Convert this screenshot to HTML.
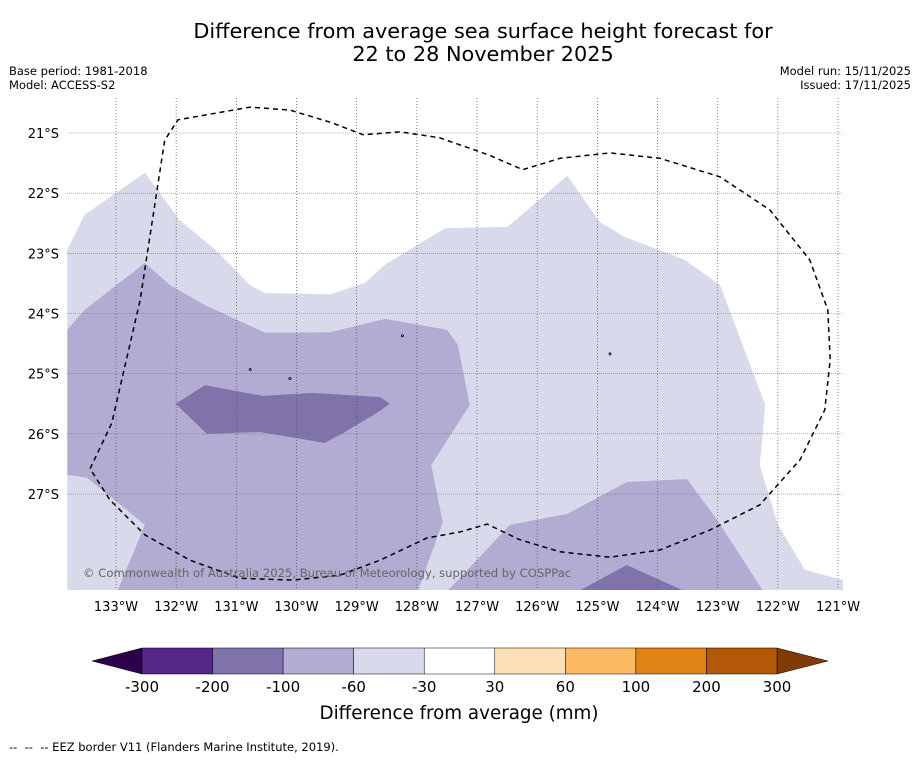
<!DOCTYPE html>
<html><head><meta charset="utf-8">
<style>
html,body{margin:0;padding:0;background:#fff;}
body{width:919px;height:758px;overflow:hidden;font-family:"DejaVu Sans","Liberation Sans",sans-serif;}
svg text{font-family:"DejaVu Sans","Liberation Sans",sans-serif;}
</style></head>
<body>
<svg id="chart" width="919" height="758" viewBox="0 0 919 758" xmlns="http://www.w3.org/2000/svg">
<text x="483" y="38" font-size="20.8" text-anchor="middle" fill="#000">Difference from average sea surface height forecast for</text>
<text x="483" y="61" font-size="20.8" text-anchor="middle" fill="#000">22 to 28 November 2025</text>
<text x="9" y="75" font-size="11.5">Base period: 1981-2018</text>
<text x="9" y="89" font-size="11.5">Model: ACCESS-S2</text>
<text x="911" y="75" font-size="11.5" text-anchor="end">Model run: 15/11/2025</text>
<text x="911" y="89" font-size="11.5" text-anchor="end">Issued: 17/11/2025</text>
<defs><clipPath id="mapclip"><rect x="67" y="98" width="776" height="492"/></clipPath></defs>
<g id="map" clip-path="url(#mapclip)"></g>
<g id="axes"></g>
<text x="83" y="577" font-size="11.6" fill="#666">© Commonwealth of Australia 2025, Bureau of Meteorology, supported by COSPPac</text>
<g id="cbar"></g>
<text x="459" y="719" font-size="18.3" text-anchor="middle">Difference from average (mm)</text>
<text x="9" y="751" font-size="11.5" xml:space="preserve">--  --  -- EEZ border V11 (Flanders Marine Institute, 2019).</text>
</svg>
<script>
// data arrays (lon °W, lat °S)
const lonTicks = [133,132,131,130,129,128,127,126,125,124,123,122,121];
const latTicks = [21,22,23,24,25,26,27];
const levelBounds = [-300,-200,-100,-60,-30,30,60,100,200,300];
const levelColors = ["#542788","#8073ac","#b2abd2","#d8daeb","#ffffff","#fee0b6","#fdb863","#e08214","#b35806"];
const lightLon = [133.81,133.52,132.52,131.94,131.35,130.77,130.52,129.44,128.86,128.53,127.53,126.49,125.50,124.96,124.54,123.54,122.96,122.21,122.30,122.00,121.55,120.92,120.92,133.81];
const lightLat = [22.94,22.36,21.66,22.45,22.94,23.53,23.66,23.68,23.49,23.19,22.58,22.56,21.71,22.48,22.73,23.11,23.53,25.52,26.52,27.51,28.26,28.43,28.60,28.60];
const medALon = [133.81,133.52,132.52,132.10,131.52,130.52,129.44,128.53,127.50,127.32,127.12,127.76,127.57,127.98,132.97,132.52,133.48,133.81];
const medALat = [24.27,23.94,23.16,23.53,23.86,24.32,24.31,24.09,24.27,24.52,25.52,26.52,27.47,28.60,28.60,27.51,26.73,26.68];
const medBLon = [127.48,126.45,125.50,124.51,123.51,123.01,122.25];
const medBLat = [28.60,27.51,27.33,26.80,26.75,27.43,28.60];
const darkALon = [132.01,131.52,130.56,129.73,128.61,128.45,128.66,129.23,129.53,130.61,131.49];
const darkALat = [25.50,25.19,25.37,25.32,25.39,25.50,25.65,25.99,26.15,25.97,26.00];
const darkBLon = [125.29,124.51,123.58];
const darkBLat = [28.60,28.18,28.60];
const eezLon = [133.43,133.07,132.60,132.19,131.97,130.77,130.11,129.44,128.89,128.28,127.62,126.79,126.24,125.62,124.79,123.96,122.96,122.13,121.47,121.17,121.13,121.22,121.63,122.30,123.13,123.96,124.79,125.62,126.29,126.83,127.28,127.83,128.61,129.28,130.06,130.94,131.77,132.52,133.10,133.43];
const eezLat = [26.58,25.82,23.78,21.12,20.78,20.57,20.62,20.82,21.03,20.98,21.08,21.37,21.61,21.42,21.33,21.42,21.73,22.28,23.11,23.94,24.77,25.60,26.43,27.18,27.60,27.93,28.05,27.96,27.76,27.50,27.63,27.73,28.10,28.35,28.43,28.40,28.10,27.68,27.10,26.58];

const NS="http://www.w3.org/2000/svg";
const PX=60.17;
function xOf(lonW){return 116+(133-lonW)*PX;}
function yOf(latS){return 133+(latS-21)*PX;}
function mk(tag,attrs,parent){const e=document.createElementNS(NS,tag);for(const k in attrs)e.setAttribute(k,attrs[k]);parent.appendChild(e);return e;}
function pts(lo,la){return lo.map((v,i)=>xOf(v).toFixed(1)+","+yOf(la[i]).toFixed(1)).join(" ");}
const map=document.getElementById('map'), axes=document.getElementById('axes'), cbar=document.getElementById('cbar');

const polys=[[lightLon,lightLat,levelColors[3],'contour-light'],[medALon,medALat,levelColors[2],'contour-medium-west'],[medBLon,medBLat,levelColors[2],'contour-medium-southeast'],[darkALon,darkALat,levelColors[1],'contour-dark-center'],[darkBLon,darkBLat,levelColors[1],'contour-dark-south']];
polys.forEach(p=>{
  const e=mk('polygon',{points:pts(p[0],p[1]),fill:p[2]},map);
  
  
});
// grid
lonTicks.forEach(l=>{
  const x=xOf(l);
  const g=mk('line',{x1:x,x2:x,y1:98,y2:590,stroke:'#555','stroke-width':0.7,'stroke-dasharray':'1,2'},axes);
  
  
  const t=mk('text',{x:x,y:611,'font-size':13,'text-anchor':'middle'},axes);
  t.textContent=l+'°W';
  
  
});
latTicks.forEach(l=>{
  const y=yOf(l);
  const g=mk('line',{x1:67,x2:843,y1:y,y2:y,stroke:'#777','stroke-width':0.6,'stroke-dasharray':'1,1'},axes);
  
  
  const t=mk('text',{x:59,y:y+5,'font-size':13,'text-anchor':'end'},axes);
  t.textContent=l+'°S';
  
  
});
// EEZ
const eez=mk('polyline',{points:pts(eezLon,eezLat),fill:'none',stroke:'#000','stroke-width':1.5,'stroke-dasharray':'5,4'},axes);


// islands
[[130.77,24.93],[128.24,24.37],[130.11,25.08],[124.79,24.67]].forEach(p=>{
  const c=mk('circle',{cx:xOf(p[0]),cy:yOf(p[1]),r:1,fill:'none',stroke:'#000','stroke-width':0.8},axes);
  
  
});
// colorbar
const cx0=142,cx1=777,cy=648,ch=26,n=levelColors.length,w=(cx1-cx0)/n;
const lt=mk('polygon',{points:`${cx0},${cy} 92,${cy+ch/2} ${cx0},${cy+ch}`,fill:'#2d004b',stroke:'#000','stroke-width':0.5},cbar);


const rt=mk('polygon',{points:`${cx1},${cy} 828,${cy+ch/2} ${cx1},${cy+ch}`,fill:'#7f3b08',stroke:'#000','stroke-width':0.5},cbar);


levelColors.forEach((c,i)=>{
  const r=mk('rect',{x:cx0+i*w,y:cy,width:w,height:ch,fill:c,stroke:'#000','stroke-width':0.5},cbar);
  
  
});
levelBounds.forEach((b,i)=>{
  const t=mk('text',{x:cx0+i*w,y:692,'font-size':15,'text-anchor':'middle'},cbar);
  t.textContent=b;
  
  
});
</script>
</body></html>
